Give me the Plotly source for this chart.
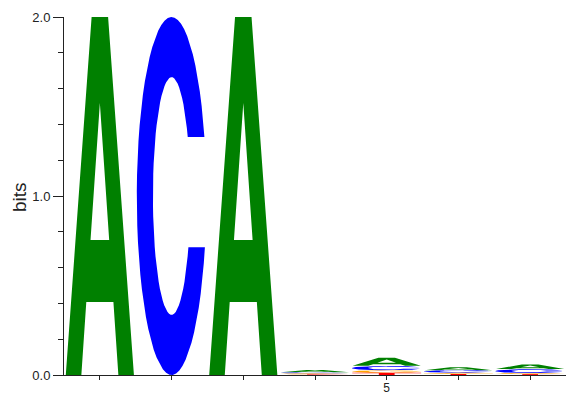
import numpy as np
import plotly.graph_objects as go

# ---- data (information content in bits, per position and base) ----
positions = [1, 2, 3, 4, 5, 6, 7]
bits_A = [2.0, 0.0, 2.0, 0.012, 0.046, 0.016, 0.026]
bits_C = [0.0, 2.0, 0.0, 0.007, 0.025, 0.014, 0.022]
bits_G = [0.0, 0.0, 0.0, 0.005, 0.014, 0.007, 0.006]
bits_T = [0.0, 0.0, 0.0, 0.004, 0.012, 0.006, 0.005]
y_tick_vals = [0.0, 1.0, 2.0]
y_tick_text = ["0.0", "1.0", "2.0"]
x_tick_text = ["", "", "", "", "5", "", ""]
y_title = "bits"

colors = {"A": "#008000", "C": "#0000FF", "G": "#FFA500", "T": "#FF0000"}


# ---- glyph outlines in a unit box (x: 0..1 cell width, y: 0..1 letter height) ----
def arc(cx, cy, rx, ry, t0, t1, n=60):
    t = np.linspace(t0, t1, n)
    return list(zip(cx + rx * np.cos(t), cy + ry * np.sin(t)))


def glyph(letter):
    if letter == "A":
        outer = [(0.025, 0), (0.385, 1), (0.615, 1), (0.975, 0), (0.758, 0),
                 (0.689, 0.204), (0.311, 0.204), (0.242, 0)]
        hole = [(0.37, 0.377), (0.63, 0.377), (0.5, 0.76)]
        return [outer, hole]
    if letter == "C":
        o = arc(0.5, 0.5, 0.485, 0.5, 0.336, 2 * np.pi - 0.29)
        i = arc(0.5, 0.5, 0.26, 0.332, 2 * np.pi - 0.445, 0.52)
        return [o + i]
    if letter == "G":
        o = arc(0.5, 0.5, 0.485, 0.5, 0.40, 2 * np.pi)
        bar = [(0.55, 0.5), (0.55, 0.40)]
        i = arc(0.5, 0.5, 0.26, 0.332, 2 * np.pi - 0.306, 0.52)
        return [o + bar + i]
    if letter == "T":
        return [[(0.39, 0), (0.39, 0.84), (0.02, 0.84), (0.02, 1),
                 (0.98, 1), (0.98, 0.84), (0.61, 0.84), (0.61, 0)]]
    return []


heights = {"A": bits_A, "C": bits_C, "G": bits_G, "T": bits_T}
paths = {k: ([], []) for k in heights}

for idx, p in enumerate(positions):
    stack = sorted(heights.keys(), key=lambda k: heights[k][idx])
    base = 0.0
    for k in stack:
        h = heights[k][idx]
        if h <= 0:
            continue
        xs, ys = paths[k]
        for poly in glyph(k):
            for gx, gy in poly:
                xs.append(p - 0.5 + gx)
                ys.append(base + gy * h)
            xs.append(poly[0][0] + p - 0.5)
            ys.append(base + poly[0][1] * h)
            xs.append(None)
            ys.append(None)
        base += h

fig = go.Figure()
for k, (xs, ys) in paths.items():
    fig.add_trace(go.Scatter(
        x=xs, y=ys, mode="lines", fill="toself",
        fillcolor=colors[k], line=dict(width=0, color=colors[k]),
        hoverinfo="skip", name=k, showlegend=False,
    ))

font = "Liberation Sans, Arial, Helvetica, sans-serif"
fig.update_layout(
    width=573, height=395,
    margin=dict(l=64, r=7, t=17, b=20, autoexpand=False),
    plot_bgcolor="white", paper_bgcolor="white",
    font=dict(family=font, size=13, color="#222222"),
    showlegend=False,
)
fig.update_xaxes(
    range=[0.5, 7.5], tickmode="array", tickvals=positions, ticktext=x_tick_text,
    ticks="outside", ticklen=4, tickcolor="#222222", ticklabelstandoff=-2,
    showline=True, linecolor="#222222", linewidth=1, automargin=False,
    showgrid=False, zeroline=False, tickfont=dict(size=12),
)
fig.update_yaxes(
    range=[0, 2], tickmode="array", tickvals=y_tick_vals, ticktext=y_tick_text,
    ticks="outside", ticklen=10, tickcolor="#222222",
    minor=dict(tickvals=[0.2, 0.4, 0.6, 0.8, 1.2, 1.4, 1.6, 1.8],
               ticks="outside", ticklen=5, tickcolor="#222222", showgrid=False),
    showline=True, linecolor="#222222", linewidth=1, automargin=False,
    showgrid=False, zeroline=False, tickfont=dict(size=13),
)
fig.add_annotation(
    text=y_title, xref="paper", yref="paper", x=-45 / 502, y=0.497,
    xanchor="center", yanchor="middle", textangle=-90, showarrow=False,
    font=dict(size=19, color="#222222"),
)

fig.write_html(
    "out.html",
    config={"displayModeBar": False},
    post_script="document.body.style.margin='0';document.body.style.overflow='hidden';",
)
